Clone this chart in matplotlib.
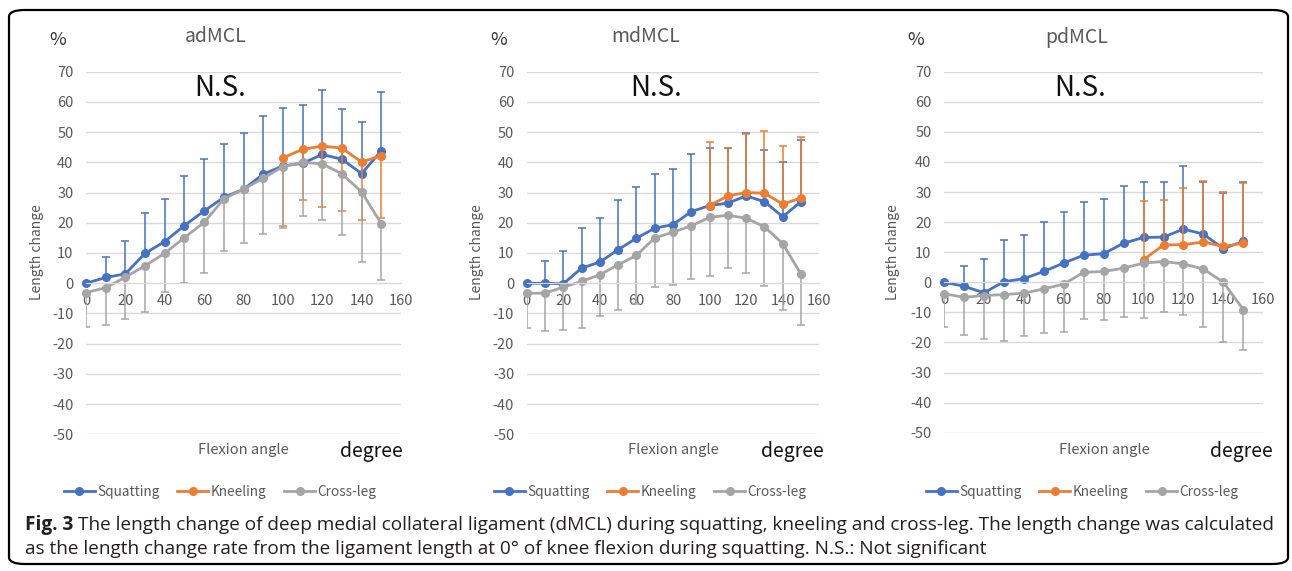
import matplotlib
matplotlib.use('Agg')

import matplotlib.pyplot as plt
from matplotlib.lines import Line2D
from matplotlib.patches import FancyBboxPatch

plt.rcParams['axes.unicode_minus'] = False
plt.rcParams['font.family'] = ['Noto Sans CJK JP', 'DejaVu Sans']

# flexion angles (degree)
angles = [0, 10, 20, 30, 40, 50, 60, 70, 80, 90, 100, 110, 120, 130, 140, 150]
kneel_angles = [100, 110, 120, 130, 140, 150]

panel_names = ['adMCL', 'mdMCL', 'pdMCL']

# length change (%) mean and SD
ad_squat = [0, 1.9, 3.1, 9.9, 13.8, 19.1, 23.9, 28.4, 31.1, 36.1, 38.8, 39.7, 42.6, 41.0, 36.3, 43.8]
ad_squat_sd = [0, 6.9, 11.0, 13.5, 14.2, 16.5, 17.1, 17.8, 18.5, 19.4, 19.3, 19.2, 21.5, 16.8, 17.0, 19.6]
ad_kneel = [41.5, 44.3, 45.4, 44.7, 40.1, 42.2]
ad_kneel_sd = [22.7, 16.8, 20.2, 20.9, 19.3, 20.6]
ad_cross = [-3.1, -1.5, 2.0, 5.8, 9.9, 15.1, 20.1, 27.9, 31.1, 34.7, 38.6, 40.0, 39.5, 36.2, 30.2, 19.7]
ad_cross_sd = [11.3, 12.4, 14.0, 15.2, 12.9, 14.9, 16.8, 17.1, 17.7, 18.5, 20.3, 17.8, 18.6, 20.3, 23.3, 18.6]

md_squat = [0, 0, -0.2, 5.0, 7.0, 11.1, 14.9, 18.2, 19.4, 23.7, 25.7, 26.5, 28.9, 27.0, 22.0, 27.0]
md_squat_sd = [0, 7.2, 11.0, 13.4, 14.6, 16.5, 16.9, 18.0, 18.3, 19.2, 19.2, 18.3, 20.9, 17.0, 18.0, 20.5]
md_kneel = [25.7, 28.9, 30.0, 29.8, 26.2, 28.2]
md_kneel_sd = [21.2, 15.9, 19.3, 20.6, 19.2, 20.2]
md_cross = [-3.3, -3.3, -1.3, 0.6, 2.8, 6.1, 9.2, 15.0, 16.9, 19.0, 21.8, 22.5, 21.5, 18.7, 13.1, 3.0]
md_cross_sd = [11.4, 12.5, 14.3, 15.3, 13.7, 14.8, 16.2, 16.3, 17.5, 17.6, 19.4, 17.4, 18.2, 19.6, 22.0, 16.9]

pd_squat = [0, -1.3, -3.5, 0.2, 1.2, 3.6, 6.4, 9.0, 9.5, 13.0, 14.9, 15.0, 17.7, 16.0, 11.2, 13.6]
pd_squat_sd = [0, 6.6, 11.2, 13.7, 14.4, 16.4, 16.9, 17.7, 18.1, 19.1, 18.6, 18.5, 20.9, 17.5, 18.4, 19.9]
pd_kneel = [7.5, 12.4, 12.5, 13.4, 11.9, 13.0]
pd_kneel_sd = [19.6, 14.9, 19.0, 20.3, 18.1, 19.9]
pd_cross = [-3.8, -5.0, -4.4, -4.1, -3.6, -2.2, -0.6, 3.3, 3.6, 4.7, 6.4, 6.9, 6.1, 4.4, 0.0, -9.1]
pd_cross_sd = [11.1, 12.4, 14.4, 15.3, 14.2, 14.7, 15.8, 15.5, 16.3, 16.3, 18.3, 16.7, 16.9, 19.1, 19.8, 13.3]

# error bar direction of the kneeling series in each panel
kneel_dir = ['minus', 'plus', 'plus']

C_SQ = '#4472C4'
C_KN = '#ED7D31'
C_CR = '#A5A5A5'
GRID = '#D9D9D9'
TXT = '#595959'

W, H = 1292, 571
fig = plt.figure(figsize=(W / 100, H / 100), dpi=100)


def ftext(x, y, s, **kw):
    return fig.text(x / W, 1 - y / H, s, ha='center', va='center', **kw)


# pixel layout of each panel: left, right, top(70), bottom(-50)
boxes = [(86, 401, 71.7, 434.3), (526.7, 819.3, 71.7, 434.3), (944, 1263.3, 71.7, 432.7)]
title_x = [216, 646, 1077]
ns_x = [220, 656, 1080]
pct_x = [58, 499, 916]
ylab_x = [37, 477, 893]
flex_x = [243, 673, 1104]
deg_x = [371, 792, 1241]
leg_x = [220, 650, 1082]

data = [
    (ad_squat, ad_squat_sd, ad_kneel, ad_kneel_sd, ad_cross, ad_cross_sd),
    (md_squat, md_squat_sd, md_kneel, md_kneel_sd, md_cross, md_cross_sd),
    (pd_squat, pd_squat_sd, pd_kneel, pd_kneel_sd, pd_cross, pd_cross_sd),
]

line_kw = dict(lw=2.0, marker='o', ms=5.5)
err_kw = dict(fmt='none', elinewidth=1.1, capsize=2.6, capthick=1.1)

for i, (sq, sq_sd, kn, kn_sd, cr, cr_sd) in enumerate(data):
    l, r, t, b = boxes[i]
    ax = fig.add_axes([l / W, 1 - b / H, (r - l) / W, (b - t) / H])
    ax.set_xlim(0, 160)
    ax.set_ylim(-50, 70)
    ax.set_xticks(range(0, 161, 20))
    ax.set_yticks(range(-50, 71, 10))
    ax.grid(axis='y', color=GRID, lw=1.0)
    ax.set_axisbelow(True)
    for s in ['top', 'right', 'left']:
        ax.spines[s].set_visible(False)
    ax.spines['bottom'].set_position(('data', 0))
    ax.spines['bottom'].set_color(GRID)
    ax.tick_params(axis='both', length=0, labelsize=10.5, labelcolor=TXT)
    ax.tick_params(axis='x', pad=8)
    ax.tick_params(axis='y', pad=9)
    ax.patch.set_alpha(0)

    zeros = [0] * len(angles)
    kz = [0] * len(kneel_angles)
    ax.errorbar(angles, sq, yerr=[zeros, sq_sd], ecolor=C_SQ, **err_kw)
    ax.plot(angles, sq, color=C_SQ, clip_on=False, **line_kw)
    if kneel_dir[i] == 'minus':
        kerr = [kn_sd, kz]
    else:
        kerr = [kz, kn_sd]
    ax.errorbar(kneel_angles, kn, yerr=kerr, ecolor=C_KN, **err_kw)
    ax.plot(kneel_angles, kn, color=C_KN, clip_on=False, **line_kw)
    ax.errorbar(angles, cr, yerr=[cr_sd, zeros], ecolor=C_CR, **err_kw)
    ax.plot(angles, cr, color=C_CR, clip_on=False, **line_kw)

    ftext(title_x[i], 37, panel_names[i], fontsize=14, color=TXT)
    ftext(ns_x[i], 88, 'N.S.', fontsize=20, color='#111111')
    ftext(pct_x[i], 40, '%', fontsize=13, color='#333333')
    ftext(ylab_x[i], 252, 'Length change', fontsize=10, color=TXT, rotation=90)
    ftext(flex_x[i], 450, 'Flexion angle', fontsize=10.5, color=TXT)
    ftext(deg_x[i], 452, 'degree', fontsize=14, color='#111111')

    handles = [Line2D([], [], color=c, **line_kw) for c in (C_SQ, C_KN, C_CR)]
    fig.legend(handles, ['Squatting', 'Kneeling', 'Cross-leg'], loc='center',
               bbox_to_anchor=(leg_x[i] / W, 1 - 492 / H), ncol=3, frameon=False,
               fontsize=9.8, labelcolor=TXT, handlelength=2.3, handletextpad=0.15,
               columnspacing=1.3, borderpad=0)

# rounded frame around the whole figure
frame = FancyBboxPatch((9 / W, 1 - 564 / H), 1279 / W, 554 / H,
                       boxstyle='round,pad=0,rounding_size=0.012',
                       transform=fig.transFigure, fill=False, ec='black', lw=1.6)
fig.patches.append(frame)

# caption
cap_kw = dict(fontsize=13.7, color='#231F20', family=['Open Sans', 'DejaVu Sans'],
              ha='left', va='center')
fig.canvas.draw()
rend = fig.canvas.get_renderer()
t1 = fig.text(25 / W, 1 - 525 / H, 'Fig. 3', weight='bold', **cap_kw)
bb = t1.get_window_extent(renderer=rend)
fig.text(bb.x1 / W + 5 / W, 1 - 525 / H,
         'The length change of deep medial collateral ligament (dMCL) during squatting, '
         'kneeling and cross-leg. The length change was calculated', **cap_kw)
fig.text(25 / W, 1 - 549 / H,
         'as the length change rate from the ligament length at 0° of knee flexion '
         'during squatting. N.S.: Not significant', **cap_kw)

fig.savefig('out.png', dpi=100)
